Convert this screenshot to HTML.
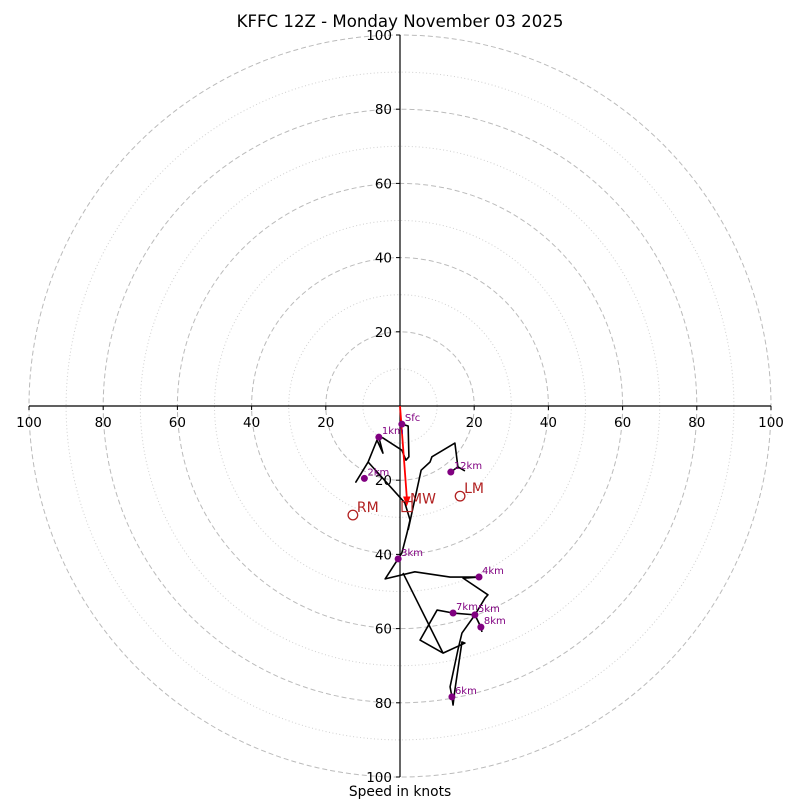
<!DOCTYPE html>
<html><head><meta charset="utf-8"><style>
body{margin:0;background:#fff}
svg{display:block;font-family:"DejaVu Sans","Liberation Sans",sans-serif}
</style></head><body>
<svg id="chart" width="800" height="800" viewBox="0 0 800 800">
<rect width="800" height="800" fill="#fff"/>
<text x="400" y="27" text-anchor="middle" font-size="16.6">KFFC 12Z - Monday November 03 2025</text>
<text x="400" y="796" text-anchor="middle" font-size="13.8">Speed in knots</text>
<g id="grid"></g><g id="axes"></g><g id="traces"></g><g id="marks"></g>
</svg>
<script>
const ringsMajor=[20,40,60,80,100];
const ringsMinor=[10,30,50,70,90];
const tickLabels=[20,40,60,80,100];
const lowerU=[0.5,2.2,2.4,1.6,0.5,-4.6,-5.7,-4.6,-6.2,-8.6,-11.9,-8.6,1.3,2.7,1.9,0.5,-0.5,-4.0,4.0,13.5,21.3,17.0,23.7,22.9,20.2,16.7,15.6,13.5,14.0,14.3,14.8,16.7,17.5,11.6,5.4,10.0,14.3,20.2,21.8,22.1];
const lowerV=[-4.9,-5.4,-13.7,-14.6,-11.9,-8.6,-8.4,-12.7,-9.2,-15.1,-20.5,-15.1,-26.1,-30.7,-34.2,-39.6,-41.2,-46.6,-44.7,-46.1,-46.1,-46.4,-50.9,-51.8,-56.3,-61.2,-65.8,-75.7,-78.4,-80.6,-76.5,-63.6,-63.9,-66.6,-63.1,-55.0,-55.8,-56.3,-59.6,-60.9];
const diagU=[0.8,11.6];
const diagV=[-45.0,-66.6];
const upperU=[2.2,5.7,8.1,8.6,14.8,15.6,17.5];
const upperV=[-33.4,-17.3,-15.1,-13.7,-10.0,-16.4,-17.5];
const topU=[13.7,15.6];
const topV=[-17.8,-16.4];
const markLabels=["Sfc","1km","2km","3km","4km","5km","6km","7km","8km","12km"];
const markU=[0.5,-5.7,-9.6,-0.5,21.3,20.2,14.0,14.3,21.8,13.7];
const markV=[-4.9,-8.4,-19.5,-41.2,-46.1,-56.3,-78.4,-55.8,-59.6,-17.8];
const mwUV=[1.9,-27.1];
const rmUV=[-12.7,-29.4];
const lmUV=[16.2,-24.3];

const NS="http://www.w3.org/2000/svg";
const cx=400,cy=406,k=3.71;
const X=u=>cx+u*k, Y=v=>cy-v*k;
function mk(tag,attrs,parent,txt){const e=document.createElementNS(NS,tag);for(const a in attrs)e.setAttribute(a,attrs[a]);if(txt!==undefined)e.textContent=txt;document.getElementById(parent).appendChild(e);return e;}
ringsMinor.forEach(r=>{const c=mk('circle',{cx:cx,cy:cy,r:r*k,fill:'none',stroke:'#d0d0d0','stroke-dasharray':'1,2.5'},'grid');

});
ringsMajor.forEach(r=>{const c=mk('circle',{cx:cx,cy:cy,r:r*k,fill:'none',stroke:'#bbb','stroke-dasharray':'5,3'},'grid');

});
const hx=mk('line',{x1:X(-100),y1:cy,x2:X(100),y2:cy,stroke:'#000','stroke-width':1.2},'axes');


const vy=mk('line',{x1:cx,y1:Y(100),x2:cx,y2:Y(-100),stroke:'#000','stroke-width':1.2},'axes');


tickLabels.forEach(t=>{[-1,1].forEach(s=>{
 mk('line',{x1:X(s*t),y1:cy,x2:X(s*t),y2:cy+4,stroke:'#000'},'axes');
 const tx=mk('text',{x:X(s*t),y:cy+21,'text-anchor':'middle','font-size':13.5},'axes',String(t));
 
 
 mk('line',{x1:cx-4,y1:Y(s*t),x2:cx,y2:Y(s*t),stroke:'#000'},'axes');
 const ty=mk('text',{x:cx-8,y:Y(s*t)+5,'text-anchor':'end','font-size':13.5},'axes',String(t));
 
 
});});
function poly(us,vs,name){const p=mk('polyline',{points:us.map((u,i)=>X(u)+','+Y(vs[i])).join(' '),fill:'none',stroke:'#000','stroke-width':1.6,'stroke-linejoin':'round'},'traces');

}
poly(lowerU,lowerV,'hodograph-lower-trace');
poly(diagU,diagV,'hodograph-mid-trace');
poly(upperU,upperV,'hodograph-upper-trace');
poly(topU,topV,'hodograph-top-trace');
const ar=mk('line',{x1:cx,y1:cy,x2:X(mwUV[0]),y2:Y(mwUV[1])-6,stroke:'red','stroke-width':1.8},'marks');


mk('polygon',{points:`${X(mwUV[0])-0.3},${Y(mwUV[1])} ${X(mwUV[0])-4},${Y(mwUV[1])-10} ${X(mwUV[0])+3.5},${Y(mwUV[1])-10}`,fill:'red'},'marks');
const sq=mk('rect',{x:X(mwUV[0])-5,y:Y(mwUV[1])-5,width:10,height:10,fill:'none',stroke:'#b22222','stroke-width':1.2},'marks');


const mwt=mk('text',{x:X(mwUV[0])+3,y:Y(mwUV[1])-3,'font-size':14,fill:'#b22222'},'marks','MW');


[[rmUV,'RM','right-mover'],[lmUV,'LM','left-mover']].forEach(([p,l,n])=>{
 const c=mk('circle',{cx:X(p[0]),cy:Y(p[1]),r:4.8,fill:'none',stroke:'#b22222','stroke-width':1.3},'marks');
 
 
 const t=mk('text',{x:X(p[0])+4,y:Y(p[1])-3,'font-size':14,fill:'#b22222'},'marks',l);
 
 
});
markLabels.forEach((l,i)=>{
 const c=mk('circle',{cx:X(markU[i]),cy:Y(markV[i]),r:3.5,fill:'purple'},'marks');
 
 
 const t=mk('text',{x:X(markU[i])+3,y:Y(markV[i])-3,'font-size':10,fill:'purple'},'marks',l);
 
 
});
</script>
</body></html>
